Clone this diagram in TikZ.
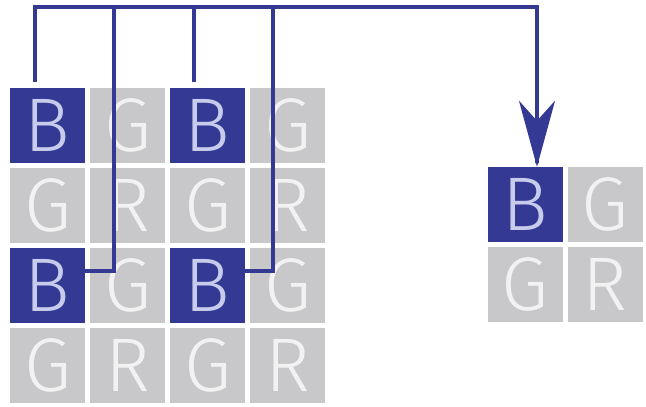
\documentclass[tikz,border=0pt]{standalone}
\usepackage{fontspec}
\setmainfont{Fira Sans Light}
\usetikzlibrary{arrows.meta}
\definecolor{bayerblue}{RGB}{52,58,148}
\definecolor{cellgray}{RGB}{200,200,202}
\definecolor{lettergray}{RGB}{242,242,242}
\definecolor{letterblue}{RGB}{200,204,236}
\tikzset{
  cell/.style={minimum size=75pt, inner sep=0pt, font=\fontsize{76}{76}\selectfont},
  gcell/.style={cell, fill=cellgray, text=lettergray},
  bcell/.style={cell, fill=bayerblue, text=letterblue},
  wire/.style={draw=bayerblue, line width=3.5pt},
  tip/.style={-{Stealth[length=66pt,width=36pt,inset=20pt]}}
}
\begin{document}
\begin{tikzpicture}[x=1pt,y=-1pt]
\useasboundingbox (0,0) rectangle (646,407);
% left 4x4 mosaic
\node[bcell] (c11) at (47.5,125.5) {B};
\node[gcell] (c12) at (127.5,125.5) {G};
\node[bcell] (c13) at (207.5,125.5) {B};
\node[gcell] (c14) at (287.5,125.5) {G};
\node[gcell] (c21) at (47.5,205.5) {G};
\node[gcell] (c22) at (127.5,205.5) {R};
\node[gcell] (c23) at (207.5,205.5) {G};
\node[gcell] (c24) at (287.5,205.5) {R};
\node[bcell] (c31) at (47.5,285.5) {B};
\node[gcell] (c32) at (127.5,285.5) {G};
\node[bcell] (c33) at (207.5,285.5) {B};
\node[gcell] (c34) at (287.5,285.5) {G};
\node[gcell] (c41) at (47.5,365.5) {G};
\node[gcell] (c42) at (127.5,365.5) {R};
\node[gcell] (c43) at (207.5,365.5) {G};
\node[gcell] (c44) at (287.5,365.5) {R};
% right 2x2 block
\node[bcell] (o11) at (525,204.5) {B};
\node[gcell] (o12) at (605,204.5) {G};
\node[gcell] (o21) at (525,284.5) {G};
\node[gcell] (o22) at (605,284.5) {R};
% routing coordinates
\coordinate (t1) at (35,7);
\coordinate (t2) at (114,7);
\coordinate (t3) at (194,7);
\coordinate (t4) at (273,7);
\coordinate (t5) at (537,7);
\coordinate (k1) at (114,271);
\coordinate (k2) at (273,271);
\coordinate (e1) at (35,82);
\coordinate (e3) at (194,82);
\coordinate (a5) at (537,163);
% connectors
\draw[wire, tip] (e1) -- (t1) -- (t5) -- (a5 -| t5) -- (o11.north -| a5);
\draw[wire] (e3) -- (t3);
\draw[wire] (c31.east |- k1) -- (k1) -- (t2);
\draw[wire] (c33.east |- k2) -- (k2) -- (t4);
\end{tikzpicture}
\end{document}
